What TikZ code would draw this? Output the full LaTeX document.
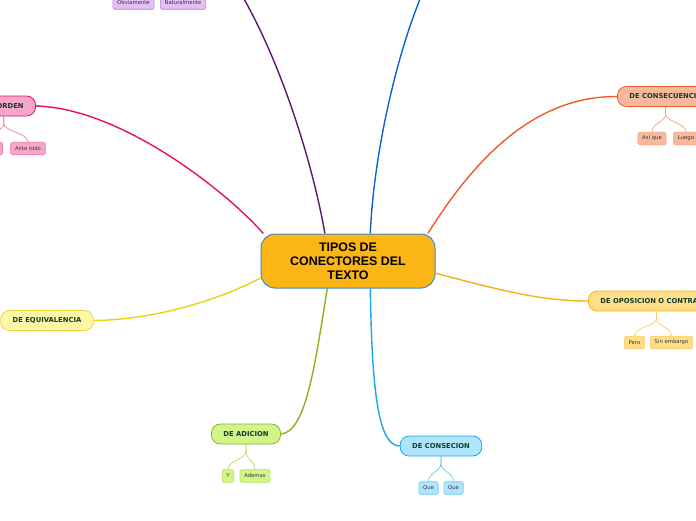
\documentclass[tikz,border=0pt]{standalone}
\usepackage{fontspec}
\setmainfont{DejaVu Sans}
\newfontfamily\rootfont{Liberation Sans}
\usetikzlibrary{backgrounds}
\definecolor{rootfill}{HTML}{FBB616}
\definecolor{rootline}{HTML}{3F8BC9}
\definecolor{labeltext}{HTML}{123B2B}
\definecolor{pinkline}{HTML}{E5106B}
\definecolor{pinkfill}{HTML}{F7A6C9}
\definecolor{pinkleaf}{HTML}{F07AB0}
\definecolor{purpline}{HTML}{5A1670}
\definecolor{purpfill}{HTML}{E3BFF5}
\definecolor{purpleaf}{HTML}{B57FD6}
\definecolor{blueline}{HTML}{1060D0}
\definecolor{orngline}{HTML}{F05A28}
\definecolor{orngfill}{HTML}{F8B89E}
\definecolor{orngleaf}{HTML}{F4A080}
\definecolor{ambrline}{HTML}{F6B115}
\definecolor{ambrfill}{HTML}{FFDE8A}
\definecolor{ambrleaf}{HTML}{F8CC60}
\definecolor{yellline}{HTML}{E6D312}
\definecolor{yellfill}{HTML}{FFF7A8}
\definecolor{yellleaf}{HTML}{E8D53A}
\definecolor{grenline}{HTML}{8AB41E}
\definecolor{grenfill}{HTML}{D3F48A}
\definecolor{grenleaf}{HTML}{B4DC5A}
\definecolor{cyanline}{HTML}{1DA6E6}
\definecolor{cyanfill}{HTML}{AEE5FA}
\definecolor{cyanleaf}{HTML}{6CC8F0}
\tikzset{rootbox/.style={draw=rootline,fill=rootfill,line width=1pt,rounded corners=14pt,
    minimum width=174pt,minimum height=54pt,align=center,inner sep=0pt,
    font=\rootfont\bfseries\fontsize{12.4}{14.2}\selectfont},
  branch/.style 2 args={draw=#1,fill=#2,rounded corners=9pt,line width=0.8pt,minimum height=20pt,
    inner xsep=12pt,inner ysep=0pt,text=labeltext,font=\bfseries\fontsize{6.8}{8}\selectfont},
  leaf/.style 2 args={draw=#1,fill=#2,rounded corners=1.5pt,line width=0.6pt,minimum height=12.5pt,
    inner xsep=4.3pt,inner ysep=0pt,text=black!80,font=\fontsize{5.3}{6}\selectfont},
  mainlink/.style={line width=1.4pt,#1},
  sublink/.style={line width=0.7pt,#1}}
\begin{document}
\begin{tikzpicture}[x=1pt,y=-1pt]
\useasboundingbox (0,0) rectangle (696,520);
\clip (0,0) rectangle (696,520);
% centre
\node[rootbox] (root) at (348,261) {TIPOS DE\\CONECTORES DEL\\TEXTO};
% branches
\node[branch={pinkline}{pinkfill},anchor=east] (orden) at (36,106) {DE ORDEN};
\node[branch={orngline}{orngfill},anchor=west] (consecu) at (617,96.5) {DE CONSECUENCIA};
\node[branch={ambrline}{ambrfill},anchor=west] (oposic) at (588,301) {DE OPOSICION O CONTRASTE};
\node[branch={yellleaf}{yellfill}] (equiv) at (47,320.5) {DE EQUIVALENCIA};
\node[branch={grenline}{grenfill}] (adicion) at (246,434) {DE ADICION};
\node[branch={cyanline}{cyanfill}] (conces) at (441,446) {DE CONSECION};
\coordinate (upleft) at (240,-8);
\coordinate (upright) at (423,-8);
% leaves
\node[leaf={pinkleaf}{pinkfill}] (orden1) at (-12,148.5) {Primero};
\node[leaf={pinkleaf}{pinkfill}] (orden2) at (28,148.5) {Ante todo};
\node[leaf={purpleaf}{purpfill}] (obvi) at (133.5,3) {Obviamente};
\node[leaf={purpleaf}{purpfill}] (natu) at (183,3) {Naturalmente};
\node[leaf={orngleaf}{orngfill}] (consecu1) at (652,138.5) {Asi que};
\node[leaf={orngleaf}{orngfill}] (consecu2) at (686,138.5) {Luego};
\node[leaf={ambrleaf}{ambrfill}] (oposic1) at (634.5,342.5) {Pero};
\node[leaf={ambrleaf}{ambrfill}] (oposic2) at (671.5,342.5) {Sin embargo};
\node[leaf={grenleaf}{grenfill}] (adicion1) at (228,476) {Y};
\node[leaf={grenleaf}{grenfill}] (adicion2) at (255,476) {Ademas};
\node[leaf={cyanleaf}{cyanfill}] (conces1) at (428.5,488) {Que};
\node[leaf={cyanleaf}{cyanfill}] (conces2) at (453.5,488) {Que};
\begin{scope}[on background layer]
\draw[mainlink=pinkline] (root.162) .. controls (225,190) and (120,108) .. (orden.east);
\draw[mainlink=purpline] (root.130) .. controls (312,160) and (280,60) .. (upleft);
\draw[mainlink=blueline] (root.51) .. controls (374,150) and (398,50) .. (upright);
\draw[mainlink=orngline] (root.19) .. controls (480,150) and (540,96) .. (consecu.west);
\draw[mainlink=ambrline] (root.-8) .. controls (500,290) and (540,301) .. (oposic.west);
\draw[mainlink=yellline] (root.191) .. controls (215,302) and (150,320) .. (equiv.east);
\draw[mainlink=grenline] (root.-127) .. controls (315,365) and (306,432) .. (adicion.east);
\draw[mainlink=cyanline] (root.-51) .. controls (372,390) and (378,446) .. (conces.west);
\foreach \p/\c in {orden/pinkleaf,consecu/orngleaf,oposic/ambrleaf,adicion/grenleaf,conces/cyanleaf}
  \foreach \k in {1,2}
    \draw[sublink=\c] (\p.south) -- ++(0,7) .. controls +(0,8) and +(0,-9) .. (\p\k.north);
\end{scope}
\end{tikzpicture}
\end{document}
